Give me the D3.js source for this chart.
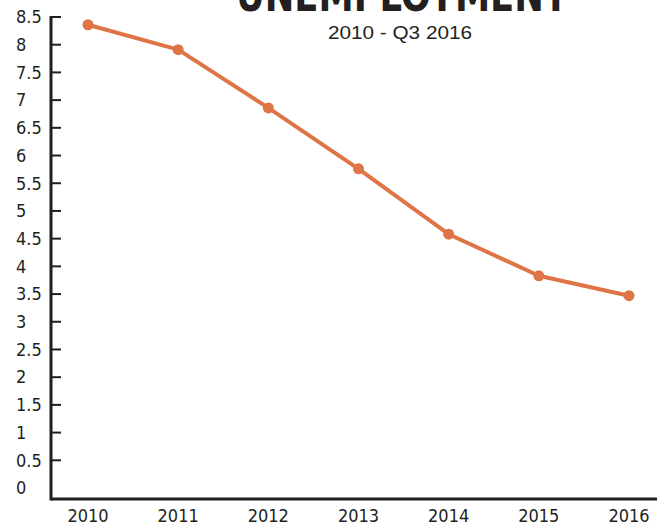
<!DOCTYPE html>
<html>
<head>
<meta charset="utf-8">
<script src="https://cdn.jsdelivr.net/npm/d3@7"></script>
<style>
body { margin: 0; background: #fff; }
svg text { fill: #231f20; }
.lbl { font-family: "Liberation Sans Narrow", "DejaVu Sans Condensed", sans-serif; font-size: 18px; }
</style>
</head>
<body>
<svg id="chart" width="664" height="525"></svg>
<script>
var years = ["2010", "2011", "2012", "2013", "2014", "2015", "2016"];
var rates = [8.36, 7.91, 6.86, 5.76, 4.58, 3.83, 3.47];
var yTicks = [0, 0.5, 1, 1.5, 2, 2.5, 3, 3.5, 4, 4.5, 5, 5.5, 6, 6.5, 7, 7.5, 8, 8.5];
var title = "UNEMPLOYMENT";
var subtitle = "2010 - Q3 2016";

var svg = d3.select("#chart");
var axisX = 51, axisY = 499;

var x = d3.scalePoint().domain(years).range([88, 629]);
var y = d3.scaleLinear().domain([0, 8.5]).range([488, 17]);

// title, mostly clipped off the top
svg.append("text")
  .attr("x", 402).attr("y", 11)
  .attr("text-anchor", "middle")
  .attr("textLength", 332).attr("lengthAdjust", "spacingAndGlyphs")
  .style("font-family", "'Liberation Sans Narrow', 'DejaVu Sans Condensed', sans-serif")
  .style("font-weight", "bold")
  .style("font-size", "46px")
  .text(title);

svg.append("text")
  .attr("x", 400).attr("y", 39)
  .attr("text-anchor", "middle")
  .attr("textLength", 144).attr("lengthAdjust", "spacingAndGlyphs")
  .style("font-family", "'Liberation Sans', sans-serif")
  .style("font-size", "18px")
  .text(subtitle);

// y labels, left aligned
svg.selectAll(".ylab")
  .data(yTicks)
  .enter().append("text")
  .attr("class", "lbl ylab")
  .attr("x", 16)
  .attr("y", function(d) { return y(d); })
  .attr("dy", "0.35em")
  .text(function(d) { return d; });

// tick marks on the inside
svg.selectAll(".ytick")
  .data(yTicks.filter(function(d) { return d > 0; }))
  .enter().append("line")
  .attr("x1", axisX).attr("x2", axisX + 10)
  .attr("y1", function(d) { return y(d); })
  .attr("y2", function(d) { return y(d); })
  .attr("stroke", "#231f20").attr("stroke-width", 2);

svg.append("line")
  .attr("x1", axisX).attr("x2", axisX)
  .attr("y1", 16).attr("y2", axisY + 1.5)
  .attr("stroke", "#231f20").attr("stroke-width", 3);
svg.append("line")
  .attr("x1", axisX).attr("x2", 657)
  .attr("y1", axisY).attr("y2", axisY)
  .attr("stroke", "#231f20").attr("stroke-width", 3);

svg.selectAll(".xlab")
  .data(years)
  .enter().append("text")
  .attr("class", "lbl xlab")
  .attr("x", function(d) { return x(d); })
  .attr("y", 522)
  .attr("text-anchor", "middle")
  .text(function(d) { return d; });

var pts = years.map(function(d, i) { return { year: d, v: rates[i] }; });

svg.append("path")
  .datum(pts)
  .attr("fill", "none")
  .attr("stroke", "#df7546")
  .attr("stroke-width", 4)
  .attr("stroke-linejoin", "round")
  .attr("d", d3.line()
    .x(function(d) { return x(d.year); })
    .y(function(d) { return y(d.v); }));

svg.selectAll(".dot")
  .data(pts)
  .enter().append("circle")
  .attr("cx", function(d) { return x(d.year); })
  .attr("cy", function(d) { return y(d.v); })
  .attr("r", 5.5)
  .attr("fill", "#df7546");
</script>
</body>
</html>
